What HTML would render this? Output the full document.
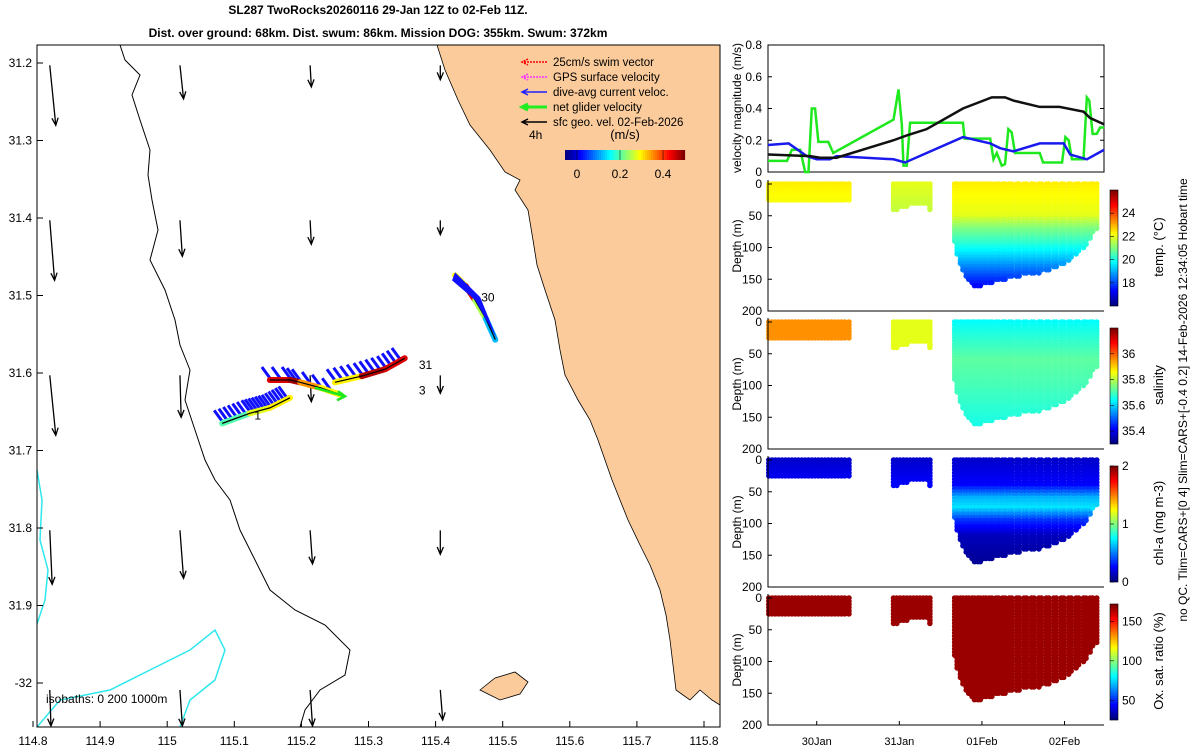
<!DOCTYPE html>
<html><head><meta charset="utf-8"><style>
html,body{margin:0;padding:0;background:#fff;width:1200px;height:750px;overflow:hidden}
svg{display:block;font-family:"Liberation Sans","DejaVu Sans",sans-serif}
</style></head><body>
<svg id="c" width="1200" height="750" viewBox="0 0 1200 750" xmlns="http://www.w3.org/2000/svg">
<text x="378" y="14" font-size="12" font-weight="bold" text-anchor="middle">SL287 TwoRocks20260116 29-Jan 12Z to 02-Feb 11Z.</text>
<text x="378" y="37" font-size="12" font-weight="bold" text-anchor="middle">Dist. over ground: 68km. Dist. swum: 86km. Mission DOG: 355km. Swum: 372km</text>
<g id="map"></g>
<g id="right"></g>
<text transform="translate(1187,400) rotate(-90)" font-size="12" text-anchor="middle">no QC. Tlim=CARS+[0 4] Slim=CARS+[-0.4 0.2] 14-Feb-2026 12:34:05 Hobart time</text>
</svg>
<script>
// ---------- DATA ----------
const lonTicks=[114.8,114.9,115,115.1,115.2,115.3,115.4,115.5,115.6,115.7,115.8];
const latTicks=[31.2,31.3,31.4,31.5,31.6,31.7,31.8,31.9,32];
const geoLons=[114.825,115.019,115.213,115.407];
const geoLats=[31.203,31.403,31.603,31.803,32.009];
const geoU=[[0.05,0.03,0.01,0],[0.04,0.02,0.01,0],[0.05,0.01,0.01,0],[0.02,0.03,0.02,0],[0.01,0.02,0.02,0.02]];
const geoV=[[0.5,0.28,0.18,0.12],[0.5,0.3,0.2,0.12],[0.5,0.35,0.22,0.15],[0.45,0.4,0.28,0.2],[0.3,0.3,0.3,0.25]];
const trackW_lon=[115.082,115.123,115.153,115.183];
const trackW_lat=[31.665,31.652,31.645,31.632];
const trackW_speed=[0.15,0.2,0.28,0.3];
const trackM_lon=[115.153,115.183,115.198,115.228,115.258];
const trackM_lat=[31.609,31.609,31.612,31.619,31.628];
const trackM_speed=[0.3,0.45,0.48,0.35,0.3];
const trackE_lon=[115.250,115.290,115.325,115.354];
const trackE_lat=[31.612,31.604,31.595,31.581];
const trackE_speed=[0.3,0.3,0.47,0.45];
const trackN_lon=[115.429,115.445,115.459,115.475,115.489];
const trackN_lat=[31.474,31.488,31.506,31.530,31.557];
const trackN_speed=[0.1,0.3,0.45,0.25,0.12];
const netLon=[115.220,115.265], netLat=[31.619,31.630];
const trackLabels=["1","3","31","30"];
const trackLabelLon=[115.13,115.375,115.375,115.468];
const trackLabelLat=[31.66,31.628,31.595,31.508];

const blackT=[29.41,29.92,30.04,30.24,30.93,31.09,31.33,31.77,32.12,32.28,32.38,32.70,32.94,33.23,33.31,33.48];
const blackV=[0.11,0.10,0.09,0.09,0.20,0.23,0.27,0.40,0.47,0.47,0.45,0.41,0.41,0.38,0.34,0.30];
const blueT=[29.41,29.66,29.88,30.00,30.16,30.24,30.93,31.07,31.77,32.10,32.22,32.38,32.70,32.99,33.07,33.27,33.48];
const blueV=[0.17,0.18,0.10,0.08,0.08,0.10,0.08,0.06,0.22,0.18,0.15,0.13,0.18,0.18,0.11,0.08,0.14];
const greenT=[29.41,29.64,29.70,29.80,29.86,29.90,29.94,29.98,30.02,30.14,30.20,30.93,30.99,31.03,31.05,31.09,31.13,31.77,31.79,32.10,32.14,32.18,32.24,32.28,32.32,32.36,32.40,32.70,32.74,32.97,33.01,33.05,33.09,33.23,33.27,33.30,33.34,33.39,33.43,33.48];
const greenV=[0.07,0.07,0.14,0.14,0,0,0.40,0.40,0.19,0.19,0.12,0.33,0.52,0.30,0.04,0.04,0.31,0.31,0.21,0.21,0.08,0.12,0.04,0.05,0.27,0.25,0.12,0.12,0.06,0.06,0.22,0.20,0.08,0.08,0.47,0.45,0.24,0.24,0.28,0.28];
const dayTicks=[30,31,32,33];
const dayLabels=["30Jan","31Jan","01Feb","02Feb"];
const velTicks=[0,0.2,0.4,0.6,0.8];

const profT=[29.42,29.46,29.50,29.54,29.58,29.62,29.66,29.70,29.74,29.78,29.82,29.86,29.90,29.94,29.98,30.02,30.06,30.10,30.14,30.18,30.22,30.26,30.30,30.34,30.39,
 30.93,30.97,31.01,31.05,31.09,31.13,31.17,31.21,31.25,31.29,31.33,31.37,
 31.67,31.70,31.74,31.77,31.81,31.84,31.88,31.91,31.95,31.98,32.02,32.05,32.09,32.12,32.17,32.20,32.25,32.28,32.33,32.36,32.42,32.45,32.51,32.54,32.60,32.63,32.69,32.72,32.78,32.81,32.87,32.90,32.96,32.99,33.05,33.08,33.14,33.17,33.23,33.26,33.31,33.34,33.39,33.42,33.46];
const profMax=[28,28,28,28,28,28,28,28,28,28,28,28,28,28,28,28,28,28,28,28,28,28,28,28,28,
 40,40,38,38,36,34,32,30,30,30,32,40,
 90,110,125,135,145,150,155,160,162,160,158,157,155,155,153,152,150,150,148,147,146,145,144,143,142,140,140,138,136,135,133,130,128,125,122,118,112,105,100,95,85,75,70];
const depthTicks=[0,50,100,150,200];
const tempDepth=[0,50,70,90,110,130,160], tempVal=[22.4,22.0,21.0,20.3,19.5,18.6,17.3];
const salDepth=[0,30,60,100,160], salVal=[35.64,35.68,35.72,35.70,35.66];
const salSurf1=35.96, salSurf2=35.84;
const chlDepth=[0,40,60,75,95,120,160], chlVal=[0.15,0.25,0.6,0.7,0.35,0.12,0.05];
const oxyDepth=[0,160], oxyVal=[168,168];
const cbRanges=[[16,26],[35.3,36.2],[0,2],[25,172]];
const cbTicks=[[18,20,22,24],[35.4,35.6,35.8,36],[0,1,2],[50,100,150]];
const cbTitles=["temp. (°C)","salinity","chl-a  (mg m-3)","Ox. sat. ratio (%)"];

// ---------- HELPERS ----------
const NS="http://www.w3.org/2000/svg";
function mk(tag,attrs,parent){const e=document.createElementNS(NS,tag);for(const k in attrs)e.setAttribute(k,attrs[k]);parent.appendChild(e);return e;}
function jet(t){t=Math.max(0,Math.min(1,t));const f=x=>Math.round(255*Math.max(0,Math.min(1,x)));
 return `rgb(${f(1.5-Math.abs(4*t-3))},${f(1.5-Math.abs(4*t-2))},${f(1.5-Math.abs(4*t-1))})`;}
function interp(xs,ys,x){if(x<=xs[0])return ys[0];for(let i=1;i<xs.length;i++){if(x<=xs[i]){const f=(x-xs[i-1])/(xs[i]-xs[i-1]);return ys[i-1]+f*(ys[i]-ys[i-1]);}}return ys[ys.length-1];}

// ---------- MAP ----------
const map=document.getElementById('map');
const mx=lon=>33+(lon-114.8)*671, my=lat=>63+(lat-31.2)*775;
const cp=mk('clipPath',{id:'mclip'},map);mk('rect',{x:37,y:45,width:683,height:682},cp);
const mg=mk('g',{'clip-path':'url(#mclip)'},map);
let land=mk('path',{d:'M437,45 L445,70 L458,100 L470,125 L490,150 L505,172 L520,180 L515,190 L528,210 L533,240 L537,265 L545,290 L555,320 L560,350 L565,375 L578,400 L590,420 L598,440 L605,460 L612,480 L620,500 L628,520 L640,545 L650,565 L660,590 L666,615 L670,640 L673,665 L676,690 L690,700 L700,690 L712,700 L720,705 L720,45 Z',fill:'#fbcb9b',stroke:'#000','stroke-width':0.8},mg);

let island=mk('path',{d:'M480,690 L495,678 L515,672 L528,682 L520,694 L500,700 Z',fill:'#fbcb9b',stroke:'#000','stroke-width':0.8},mg);

let iso=mk('path',{d:'M120,45 L125,60 L140,75 L132,95 L140,120 L150,150 L148,175 L152,200 L158,230 L150,260 L165,290 L175,320 L180,345 L190,370 L185,400 L195,430 L205,460 L215,480 L230,500 L240,530 L255,560 L270,590 L295,610 L325,625 L350,650 L345,675 L320,690 L305,710 L300,727',fill:'none',stroke:'#000','stroke-width':1},mg);

let iso2=mk('path',{d:'M37,470 L42,500 L40,540 L48,570 L45,600 L35,630 M37,727 L60,700 L110,690 L150,670 L190,650 L215,630 L225,650 L215,680 L190,700 L180,727',fill:'none',stroke:'#2ee8ee','stroke-width':1.5},mg);

for(let r=0;r<geoLats.length;r++)for(let c=0;c<geoLons.length;c++){
 const x0=mx(geoLons[c]),y0=my(geoLats[r]),x1=x0+geoU[r][c]*120,y1=y0+geoV[r][c]*120;
 const a=Math.atan2(y1-y0,x1-x0),h=8;
 const g=mk('path',{d:`M${x0},${y0} L${x1},${y1} M${x1-h*Math.cos(a-0.4)},${y1-h*Math.sin(a-0.4)} L${x1},${y1} L${x1-h*Math.cos(a+0.4)},${y1-h*Math.sin(a+0.4)}`,stroke:'#000','stroke-width':1.3,fill:'none'},mg);
 
 
}
function track(lons,lats,sp,name,ticks){
 const g=mk('g',{},mg);
 if(ticks){for(let i=1;i<lons.length;i++){for(let k=0;k<ticks;k++){const f=k/ticks;const x=mx(lons[i-1]+f*(lons[i]-lons[i-1])),y=my(lats[i-1]+f*(lats[i]-lats[i-1]));
   mk('line',{x1:x,y1:y-2,x2:x-8,y2:y-13,stroke:'#1010ff','stroke-width':3},g);}}}
 for(let i=1;i<lons.length;i++){
  mk('line',{x1:mx(lons[i-1]),y1:my(lats[i-1]),x2:mx(lons[i]),y2:my(lats[i]),stroke:jet((sp[i]+0.05)/0.55),'stroke-width':6,'stroke-linecap':'round'},g);
 }
 mk('polyline',{points:lons.map((l,i)=>mx(l)+','+my(lats[i])).join(' '),fill:'none',stroke:'#000','stroke-width':1.2},g);
}
track(trackW_lon,trackW_lat,trackW_speed,'glider-track-west',6);
track(trackM_lon,trackM_lat,trackM_speed,'glider-track-mid',2);
track(trackE_lon,trackE_lat,trackE_speed,'glider-track-east',4);
track(trackN_lon,trackN_lat,trackN_speed,'glider-track-north',0);
let nb=mk('path',{d:`M${mx(trackN_lon[0])},${my(trackN_lat[0])-3} L${mx(trackN_lon[2])+5},${my(trackN_lat[2])-3} L${mx(trackN_lon[4])+2},${my(trackN_lat[4])} L${mx(trackN_lon[2])},${my(trackN_lat[2])} L${mx(trackN_lon[0])-3},${my(trackN_lat[0])+5}Z`,fill:'#1010ff'},mg);

let na=mk('path',{d:`M${mx(netLon[0])},${my(netLat[0])} L${mx(netLon[1])},${my(netLat[1])} M${mx(netLon[1])-7},${my(netLat[1])-5} L${mx(netLon[1])},${my(netLat[1])} L${mx(netLon[1])-8},${my(netLat[1])+4}`,stroke:'#1ee81e','stroke-width':2.5,fill:'none'},mg);

trackLabels.forEach((t,i)=>{const e=mk('text',{x:mx(trackLabelLon[i]),y:my(trackLabelLat[i]),'font-size':12},mg);e.textContent=t;
 });
let fr=mk('rect',{x:37,y:45,width:683,height:682,fill:'none',stroke:'#000','stroke-width':1},map);

lonTicks.forEach(l=>{const x=mx(l);const t=mk('text',{x:x,y:745,'font-size':12,'text-anchor':'middle'},map);t.textContent=String(l);
 
 mk('line',{x1:x,y1:727,x2:x,y2:721,stroke:'#000'},map);});
latTicks.forEach(l=>{const y=my(l);const t=mk('text',{x:32,y:y+4,'font-size':12,'text-anchor':'end'},map);t.textContent=l===32?'-32':String(l);
 
 mk('line',{x1:37,y1:y,x2:43,y2:y,stroke:'#000'},map);});
let isoT=mk('text',{x:46,y:703,'font-size':12,'xml:space':'preserve'},map);isoT.textContent='isobaths: 0   200  1000m';

const legCols=['#ff0000','#ff33ff','#2020ff','#20ee20','#000'];
const legTxt=['25cm/s swim vector','GPS surface velocity','dive-avg current veloc.','net glider velocity','sfc geo. vel. 02-Feb-2026'];
legTxt.forEach((t,i)=>{const y=62+i*15;const g=mk('g',{},map);
 mk('path',{d:`M547,${y} L522,${y} M528,${y-3} L522,${y} L528,${y+3}`,stroke:legCols[i],'stroke-width':i===3?3:1.5,fill:'none','stroke-dasharray':i<2?'2,1':''},g);
 const e=mk('text',{x:553,y:y+4,'font-size':11.5},g);e.textContent=t;});
let h4=mk('text',{x:529,y:139,'font-size':12},map);h4.textContent='4h';
let ms=mk('text',{x:625,y:139,'font-size':13,'text-anchor':'middle'},map);ms.textContent='(m/s)';
for(let i=0;i<60;i++){mk('rect',{x:565+i*2,y:150,width:2.1,height:10,fill:jet(i/59)},map);}
[0,0.2,0.4].forEach(v=>{const x=577+v/0.2*43;const t=mk('text',{x:x,y:178,'font-size':12,'text-anchor':'middle'},map);t.textContent=String(v);
 mk('line',{x1:x,y1:150,x2:x,y2:160,stroke:'#000','stroke-width':0.5},map);});

// ---------- RIGHT PANELS ----------
const R=document.getElementById('right');
const tx=d=>768+(d-29.41)*82.6;
const vy=v=>172-v/0.8*127;
let vb=mk('rect',{x:768,y:45,width:336,height:127,fill:'#fff',stroke:'#000'},R);
velTicks.forEach(v=>{const t=mk('text',{x:762,y:vy(v)+4,'font-size':12,'text-anchor':'end'},R);t.textContent=String(v);
 
 mk('line',{x1:768,y1:vy(v),x2:772,y2:vy(v),stroke:'#000'},R);mk('line',{x1:1100,y1:vy(v),x2:1104,y2:vy(v),stroke:'#000'},R);});
let vt=mk('text',{transform:'translate(741,108) rotate(-90)','font-size':12,'text-anchor':'middle'},R);vt.textContent='velocity magnitude (m/s)';

[[greenT,greenV,'#1ee81e','net-glider-speed-line'],[blueT,blueV,'#1a1aee','dive-avg-current-line'],[blackT,blackV,'#111','geo-velocity-line']].forEach(s=>{
 const p=mk('polyline',{points:s[0].map((d,i)=>tx(d)+','+vy(s[1][i])).join(' '),fill:'none',stroke:s[2],'stroke-width':2.5},R);
 });
const panelTop=[184,322,460,598];
const vals=[
 (g,d)=>interp(tempDepth,tempVal,d)+(g===0?0:g===1?-0.4:0),
 (g,d)=>g===0?salSurf1:g===1?salSurf2:interp(salDepth,salVal,d),
 (g,d)=>interp(chlDepth,chlVal,d),
 (g,d)=>interp(oxyDepth,oxyVal,d)];
const names=['temperature','salinity','chlorophyll','oxygen'];
panelTop.forEach((top,p)=>{
 const dy=d=>top+d/200*127;
 const g=mk('g',{},R);
 mk('rect',{x:768,y:top-4,width:336,height:131,fill:'#fff'},g);
 const [lo,hi]=cbRanges[p];
 profT.forEach((t,i)=>{const grp=t<30.5?0:t<31.5?1:2;
  for(let d=0;d<=profMax[i];d+=5){mk('circle',{cx:tx(t),cy:dy(d),r:2.8,fill:jet((vals[p](grp,d)-lo)/(hi-lo))},g);}});
 mk('path',{d:`M768,${top-4} L768,${top+127} L1104,${top+127}`,fill:'none',stroke:'#000'},g);
 depthTicks.forEach(d=>{const t=mk('text',{x:762,y:dy(d)+4,'font-size':12,'text-anchor':'end'},g);t.textContent=String(d);
  
  mk('line',{x1:768,y1:dy(d),x2:772,y2:dy(d),stroke:'#000'},g);});
 const yt=mk('text',{transform:`translate(741,${top+62}) rotate(-90)`,'font-size':12,'text-anchor':'middle'},g);yt.textContent='Depth (m)';
 
 const cb=mk('g',{},g);
 const ct=top+6,ch=116;
 for(let i=0;i<58;i++)mk('rect',{x:1110,y:ct+ch-(i+1)*2,width:8,height:2.1,fill:jet(i/57)},cb);
 mk('rect',{x:1110,y:ct,width:8,height:ch,fill:'none',stroke:'#000','stroke-width':0.6},cb);
 cbTicks[p].forEach(v=>{const y=ct+ch-(v-lo)/(hi-lo)*ch;const t=mk('text',{x:1122,y:y+4,'font-size':12},cb);t.textContent=String(v);
  mk('line',{x1:1110,y1:y,x2:1114,y2:y,stroke:'#000','stroke-width':0.6},cb);});
 const tt=mk('text',{transform:`translate(1163,${top+63}) rotate(-90)`,'font-size':13,'text-anchor':'middle'},cb);tt.textContent=cbTitles[p];
});
dayTicks.forEach((d,i)=>{const t=mk('text',{x:tx(d),y:745,'font-size':11,'text-anchor':'middle'},R);t.textContent=dayLabels[i];
 
 mk('line',{x1:tx(d),y1:725,x2:tx(d),y2:721,stroke:'#000'},R);});
</script>
</body></html>
